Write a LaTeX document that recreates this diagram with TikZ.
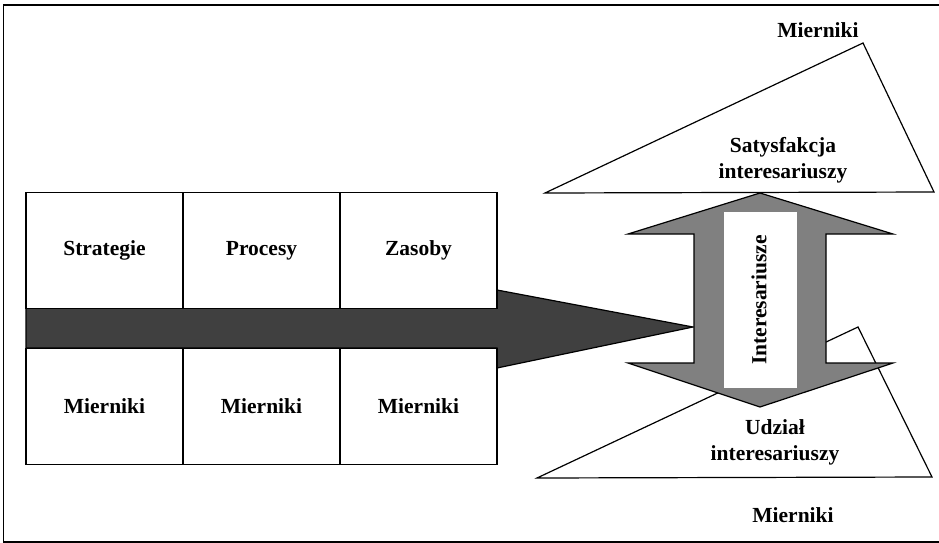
\documentclass[tikz,border=0pt]{standalone}
\usepackage{fontspec}
\setmainfont{Liberation Serif}
\usepackage{tikz}

\definecolor{darkarrow}{gray}{0.25}
\definecolor{lightarrow}{gray}{0.5}

\begin{document}
\begin{tikzpicture}[x=1pt,y=-1pt,line width=1.2pt,
  lbl/.style={font=\fontsize{21.5}{26}\selectfont\bfseries,align=center,inner sep=0pt},
  cell/.style={lbl,draw,fill=white,minimum width=157pt,minimum height=116pt}]
\useasboundingbox (0,0) rectangle (939,543);
% Frame
\draw[line width=1.4pt] (950,5) -- (3.5,5) -- (3.5,542) -- (950,542);

% Triangles
\draw[fill=white] (863,43) -- (545,193) -- (934,192) -- cycle;
\draw[fill=white] (858,327) -- (537,478) -- (932,477) -- cycle;

% Main arrow
\draw[fill=darkarrow] (26,308) -- (497,308) -- (497,290) -- (693,327)
  -- (497,368) -- (497,348) -- (26,348) -- cycle;

% Cells
\node[cell] (str) at (104.5,250.5) {Strategie};
\node[cell] (pro) at (261.5,250.5) {Procesy};
\node[cell] (zas) at (418.5,250.5) {Zasoby};
\node[cell] (m-str) at (104.5,406.5) {Mierniki};
\node[cell] (m-pro) at (261.5,406.5) {Mierniki};
\node[cell] (m-zas) at (418.5,406.5) {Mierniki};

% Double arrow
\draw[fill=lightarrow] (760,193) -- (893,234) -- (826,234) -- (826,363)
  -- (893,363) -- (760,407) -- (628,363) -- (694,363) -- (694,234)
  -- (628,234) -- cycle;
\fill[white] (724,212) rectangle (797,388);
\node[lbl,rotate=90] (int) at (759,300) {Interesariusze};

% Labels
\node[lbl] (m-top) at (818,30) {Mierniki};
\node[lbl] (sat) at (783,160) {Satysfakcja\\interesariuszy};
\node[lbl] (udz) at (775,442) {Udział\\interesariuszy};
\node[lbl] (m-bot) at (793,515) {Mierniki};
\end{tikzpicture}
\end{document}
